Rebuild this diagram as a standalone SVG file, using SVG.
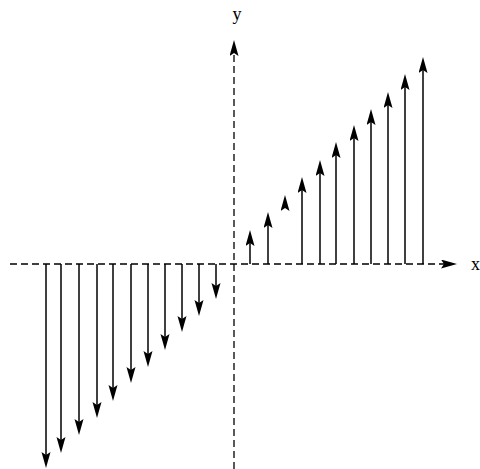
<svg xmlns="http://www.w3.org/2000/svg" width="480" height="469" viewBox="0 0 480 469">
<style>
.axis{stroke:#000;stroke-width:1.3;stroke-dasharray:7,4;fill:none}
.vec{stroke:#000;stroke-width:1.5;fill:none;marker-end:url(#ah)}
.lbl{font-family:"Liberation Serif",serif;font-size:18px;fill:#000}
</style>
<defs>
<marker id="ah" markerUnits="userSpaceOnUse" markerWidth="20" markerHeight="10" refX="12" refY="4.5" orient="auto">
<path d="M0,0 L16,4.5 L0,9 L3,4.5 z" fill="#000" stroke="none"/>
</marker>
</defs>
<rect width="480" height="469" fill="#fff"/>
<g id="axes">
<path class="axis" d="M10,264 L453,264" marker-end="url(#ah)"/>
<path class="axis" d="M234,469 L234,44" marker-end="url(#ah)"/>
</g>
<g id="labels">
<text class="lbl" x="237" y="20" text-anchor="middle">y</text>
<text class="lbl" x="471" y="270">x</text>
</g>
<g id="up-vectors">
<path class="vec" d="M250,264 L250,234"/>
<path class="vec" d="M268,264 L268,216"/>
<path class="vec" d="M285,207 L285,199"/>
<path class="vec" d="M302,264 L302,181"/>
<path class="vec" d="M320,264 L320,164"/>
<path class="vec" d="M336,264 L336,146"/>
<path class="vec" d="M354,264 L354,129"/>
<path class="vec" d="M371,264 L371,113"/>
<path class="vec" d="M388,264 L388,96"/>
<path class="vec" d="M405,264 L405,78"/>
<path class="vec" d="M423,264 L423,61"/>
</g>
<g id="down-vectors">
<path class="vec" d="M46,264 L46,464"/>
<path class="vec" d="M61,264 L61,449"/>
<path class="vec" d="M79,264 L79,431"/>
<path class="vec" d="M97,264 L97,414"/>
<path class="vec" d="M113,264 L113,397"/>
<path class="vec" d="M131,264 L131,379"/>
<path class="vec" d="M148,264 L148,363"/>
<path class="vec" d="M165,264 L165,346"/>
<path class="vec" d="M182,264 L182,328"/>
<path class="vec" d="M199,264 L199,312"/>
<path class="vec" d="M216,264 L216,295"/>
</g>
</svg>
